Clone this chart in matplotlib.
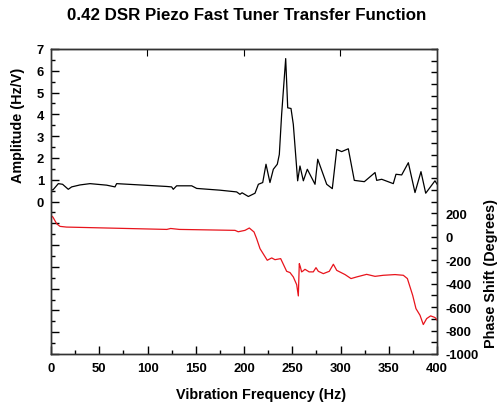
import matplotlib
matplotlib.use("Agg")
import matplotlib.pyplot as plt
from matplotlib.ticker import MultipleLocator, FuncFormatter

plt.rcParams['font.family'] = ['Liberation Sans', 'DejaVu Sans']
plt.rcParams['font.weight'] = 'bold'

title = "0.42 DSR Piezo Fast Tuner Transfer Function"
xlabel = "Vibration Frequency (Hz)"
ylabel_left = "Amplitude (Hz/V)"
ylabel_right = "Phase Shift (Degrees)"

amp_freq = [0, 2, 7.6, 12, 17.9, 21.4, 30, 40.4, 57.7, 66.3, 68, 92.2, 119.9, 125, 126.7,
            130.2, 145.8, 151, 175, 192.4, 195.8, 198, 204.5, 211.4, 214.9, 219.4, 222.8,
            226.9, 230.4, 234.5, 236.6, 239.0, 243.2, 245.3, 248.7, 251.1, 255.6, 258,
            261.5, 265.6, 273.6, 276.4, 285.7, 291.5, 296.1, 301.2, 308.1, 314.3, 324.7,
            335.8, 337.5, 342.7, 354.7, 357.5, 363.4, 370.3, 377.2, 383.4, 388.3, 397.9, 400]
amp_vals = [0.56, 0.53, 0.82, 0.79, 0.56, 0.67, 0.76, 0.82, 0.75, 0.67, 0.82, 0.76, 0.69,
            0.67, 0.56, 0.72, 0.72, 0.60, 0.52, 0.44, 0.33, 0.40, 0.23, 0.38, 0.79, 0.87,
            1.71, 0.87, 1.48, 1.71, 2.16, 4.0, 6.56, 4.3, 4.27, 3.54, 0.95, 1.63, 0.95,
            1.48, 0.79, 1.94, 0.79, 0.59, 2.39, 2.29, 2.42, 0.97, 0.91, 1.33, 0.97, 1.02,
            0.82, 1.25, 1.22, 1.78, 0.41, 1.37, 0.38, 0.95, 0.80]

phase_freq = [0, 2, 5.9, 9.3, 16, 57.7, 120, 124, 133, 190.7, 194, 201, 205.5, 210.4,
              213.1, 216.6, 224.1, 228.7, 232.1, 238, 244.2, 247.7, 251.1, 254.6, 256.3,
              257.3, 258.3, 259.7, 260.7, 263.2, 267.5, 271.8, 274.6, 277, 282.2, 288.4,
              292.6, 296.1, 304.7, 310.9, 316.8, 327.1, 335.8, 344.4, 356.5, 365.1, 369.3,
              374.8, 378.2, 382.4, 385.8, 389.3, 393.4, 397.9, 400]
phase_vals = [181, 167, 110, 88, 82, 74, 62, 70, 62, 54, 42, 54, 74, 40, -17, -102, -201,
              -181, -196, -187, -295, -306, -343, -409, -505, -230, -255, -300, -295, -278,
              -300, -300, -264, -295, -315, -295, -235, -287, -323, -357, -343, -321, -338,
              -329, -323, -329, -357, -500, -613, -670, -749, -698, -675, -689, -710]

fig = plt.figure(figsize=(5.03, 4.06), dpi=100)
ax = fig.add_axes([51/503, 1 - 355/406, (437-51)/503, (355-50)/406])
ax.plot(amp_freq, amp_vals, color='black', lw=0.9)
ax.set_xlim(0, 400)
ax.set_ylim(-7, 7)

ax.xaxis.set_major_locator(MultipleLocator(50))
ax.xaxis.set_minor_locator(MultipleLocator(25))
ax.yaxis.set_major_locator(MultipleLocator(1))
ax.yaxis.set_minor_locator(MultipleLocator(0.5))
ax.yaxis.set_major_formatter(FuncFormatter(lambda v, p: f"{int(round(v))}" if v >= -0.01 else ""))
ax.tick_params(axis='both', which='major', direction='in', length=6, width=1,
               labelsize=9.4, top=False, right=False)
ax.tick_params(axis='both', which='minor', direction='in', length=3, width=1,
               top=False, right=False)
for lab in ax.get_xticklabels() + ax.get_yticklabels():
    lab.set_fontweight('bold')
ax.tick_params(axis='x', pad=6)
ax.tick_params(axis='y', pad=5)

# top ticks every 100
axt = ax.secondary_xaxis('top')
axt.set_xticks([100, 200, 300])
axt.tick_params(direction='in', length=5, labeltop=False)

ax2 = ax.twinx()
ax2.plot(phase_freq, phase_vals, color='#e8141c', lw=0.9)
ax2.set_ylim(-1000, 1600)
ax2.yaxis.set_major_locator(MultipleLocator(100))
ax2.yaxis.set_major_formatter(FuncFormatter(
    lambda v, p: f"{int(round(v))}" if (round(v) % 200 == 0 and v <= 200.5) else ""))
ax2.tick_params(axis='y', direction='in', length=4, width=1, labelsize=9.4, pad=6)
for lab in ax2.get_yticklabels():
    lab.set_fontweight('bold')

for a in (ax, ax2):
    for s in a.spines.values():
        s.set_linewidth(1.0)
        s.set_color('#333333')

fig.text(247/503, 1 - 16/406, title, ha='center', va='center', fontsize=12.2, fontweight='bold')
fig.text(261/503, 1 - 395/406, xlabel, ha='center', va='center', fontsize=10.4, fontweight='bold')
fig.text(18/503, 1 - 125/406, ylabel_left, ha='center', va='center', rotation=90,
         fontsize=10.4, fontweight='bold')
fig.text(491/503, 1 - 274/406, ylabel_right, ha='center', va='center', rotation=90,
         fontsize=10.4, fontweight='bold')

fig.savefig("out.png", dpi=100)
